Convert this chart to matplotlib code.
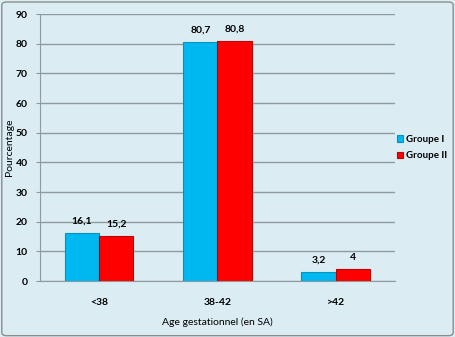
import matplotlib.pyplot as plt
import numpy as np
from matplotlib.patches import FancyBboxPatch

categories = ["<38", "38-42", ">42"]
groupe_1 = [16.1, 80.7, 3.2]
groupe_2 = [15.2, 80.8, 4.0]
series_labels = ["Groupe I", "Groupe II"]


def fmt(v):
    s = f"{v:.1f}".rstrip("0").rstrip(".")
    return s.replace(".", ",")


plt.rcParams["font.family"] = ["Lato", "DejaVu Sans"]
bg = "#dbedf3"

fig = plt.figure(figsize=(4.55, 3.37), dpi=100, facecolor=bg)
fig.patches.append(FancyBboxPatch((0.004, 0.004), 0.992, 0.99,
                                  boxstyle="round,pad=0,rounding_size=0.01",
                                  transform=fig.transFigure, fill=False,
                                  edgecolor="#8c8c8c", linewidth=1.0))
ax = fig.add_axes([0.088, 0.166, 0.78, 0.792])
ax.set_facecolor(bg)

x = np.arange(len(categories))
w = 0.29
b1 = ax.bar(x - w / 2, groupe_1, w, color="#00b8f0", edgecolor="#0093c4",
            linewidth=0.8, label=series_labels[0], zorder=3)
b2 = ax.bar(x + w / 2, groupe_2, w, color="#ff0000", edgecolor="#c00000",
            linewidth=0.8, label=series_labels[1], zorder=3)

for bars, vals in ((b1, groupe_1), (b2, groupe_2)):
    for rect, v in zip(bars, vals):
        ax.text(rect.get_x() + rect.get_width() / 2, v + 2.5, fmt(v),
                ha="center", va="bottom", fontsize=7.5, fontweight="bold")

ax.set_xlim(-0.5, 2.5)
ax.set_ylim(0, 90)
ax.set_yticks(np.arange(0, 91, 10))
ax.set_xticks(x)
ax.set_xticklabels(categories)
ax.yaxis.grid(True, color="#8f9a9e", linewidth=1.0, zorder=0)
ax.set_axisbelow(True)
for side in ("top", "right"):
    ax.spines[side].set_visible(False)
for side in ("left", "bottom"):
    ax.spines[side].set_color("#8f9a9e")
ax.tick_params(axis="y", length=3, color="#8f9a9e", labelsize=7.5, pad=6)
ax.tick_params(axis="x", length=0, labelsize=7.5, pad=12)
for lbl in ax.get_yticklabels() + ax.get_xticklabels():
    lbl.set_fontweight("bold")

ax.set_xlabel("Age gestationnel (en SA)", fontsize=7.5, labelpad=8)
ax.set_ylabel("Pourcentage", fontsize=7.5, labelpad=1)

leg = ax.legend(loc="center left", bbox_to_anchor=(0.98, 0.5), frameon=False,
                fontsize=7, handlelength=0.7, handleheight=0.7,
                handletextpad=0.3, labelspacing=0.8)
for t in leg.get_texts():
    t.set_fontweight("bold")

fig.savefig("out.png", dpi=100, facecolor=bg)
